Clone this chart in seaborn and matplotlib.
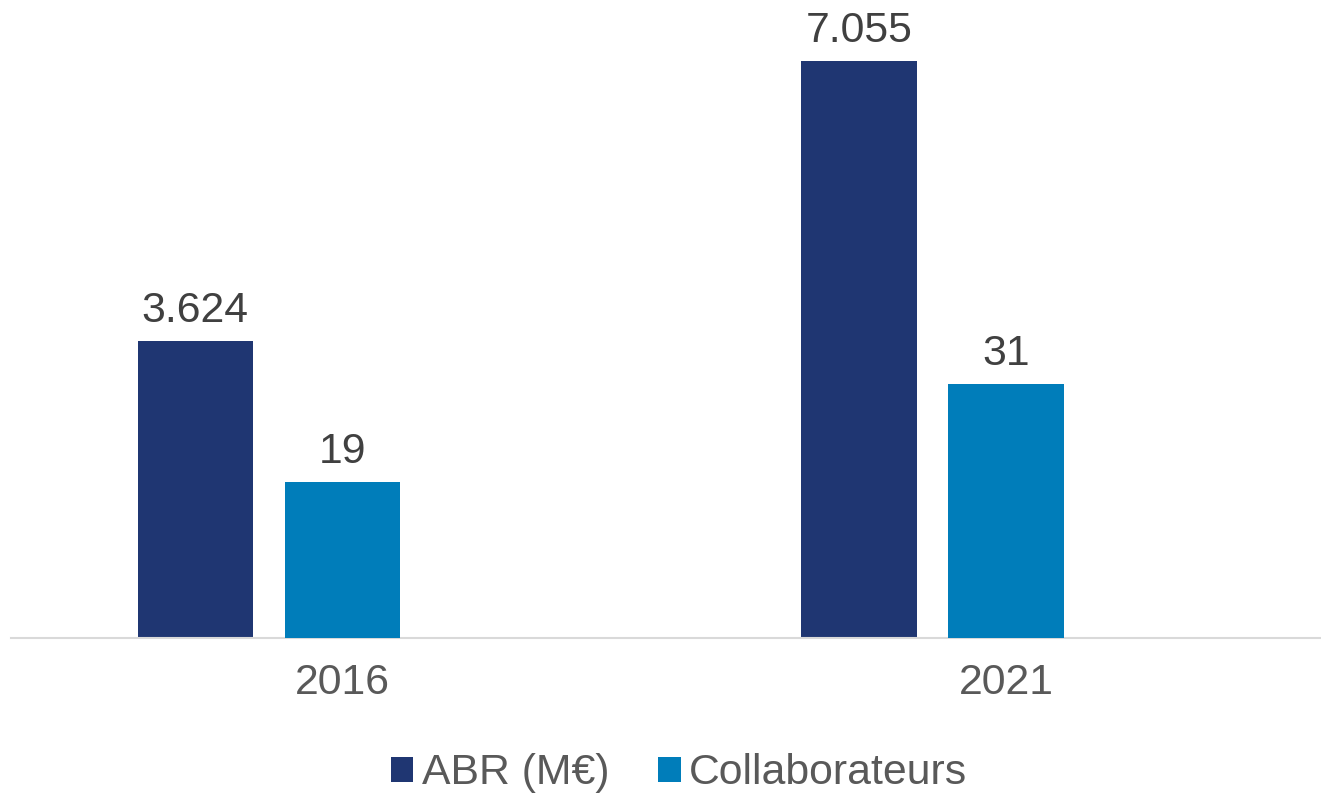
import matplotlib
matplotlib.use("Agg")
import matplotlib.pyplot as plt
import seaborn as sns
import pandas as pd
from matplotlib.patches import Patch

# ---- data ----
years = ["2016", "2021"]
abr_values = [3.624, 7.055]          # ABR (M€)
abr_labels = ["3.624", "7.055"]
collab_values = [19, 31]             # Collaborateurs
collab_labels = ["19", "31"]
series_names = ["ABR (M€)", "Collaborateurs"]

# ---- style ----
sns.set_theme(style="white")
plt.rcParams["font.family"] = ["Liberation Sans", "DejaVu Sans"]

c_abr = "#1F3672"
c_col = "#007DBA"
txt_dark = "#404040"
txt_grey = "#595959"
FS = 30.8

fig = plt.figure(figsize=(13.21, 7.96), dpi=100)
ax = fig.add_axes([10.7 / 1321, 158 / 796, 1327 / 1321, 638 / 796])
ax2 = ax.twinx()

cat_pos = list(range(len(years)))
offset = -0.2217
bar_w = 0.174

df_abr = pd.DataFrame({"x": [p + offset for p in cat_pos], "v": abr_values})
df_col = pd.DataFrame({"x": cat_pos, "v": collab_values})

sns.barplot(data=df_abr, x="x", y="v", native_scale=True, width=bar_w,
            color=c_abr, saturation=1, linewidth=0, ax=ax)
sns.barplot(data=df_col, x="x", y="v", native_scale=True, width=bar_w,
            color=c_col, saturation=1, linewidth=0, ax=ax2)

ax.set_xlim(-0.5, 1.5)
ax.set_ylim(0, 7.795)
ax2.set_ylim(0, 77.95)

# data labels
for a, labs in ((ax, abr_labels), (ax2, collab_labels)):
    for patch, lab in zip(a.patches, labs):
        a.annotate(lab, (patch.get_x() + patch.get_width() / 2, patch.get_height()),
                   xytext=(0, 13.7), textcoords="offset points",
                   ha="center", va="baseline", fontsize=FS, color=txt_dark)

# axes styling
for a in (ax, ax2):
    for s in ("top", "right", "left", "bottom"):
        a.spines[s].set_visible(False)
    a.set_yticks([])
    a.set_ylabel("")
    a.set_xlabel("")
ax.spines["bottom"].set_visible(True)
ax.spines["bottom"].set_color("#D9D9D9")
ax.spines["bottom"].set_linewidth(1.5)

ax.set_xticks(cat_pos)
ax.set_xticklabels(years)
ax.tick_params(axis="x", length=0, pad=18.2, labelsize=FS, labelcolor=txt_grey)
ax2.tick_params(axis="x", length=0)

handles = [Patch(facecolor=c_abr, edgecolor="none"), Patch(facecolor=c_col, edgecolor="none")]
fig.legend(handles, series_names, loc="center", bbox_to_anchor=(679 / 1321, 0.0283),
           ncol=2, frameon=False, fontsize=FS, labelcolor=txt_grey,
           handlelength=0.52, handleheight=0.52, handletextpad=0.2,
           columnspacing=1.15, borderpad=0, borderaxespad=0)

fig.savefig("out.png", dpi=100)
